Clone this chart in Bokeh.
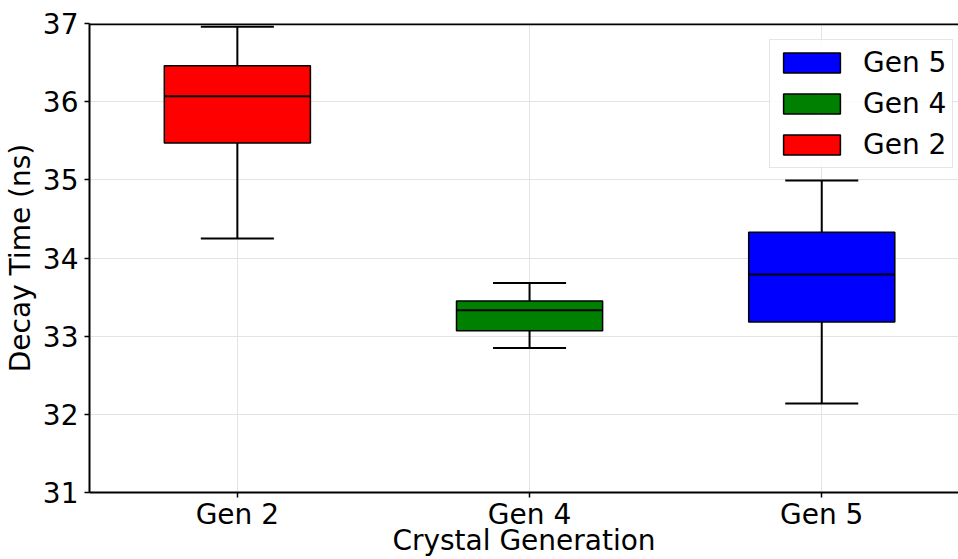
from bokeh.plotting import figure
from bokeh.models import Range1d, Span, Legend, LegendItem, ColumnDataSource
from bokeh.embed import file_html
from bokeh.resources import INLINE

# ---- data ----
generations = ["Gen 2", "Gen 4", "Gen 5"]
box_colors = ["red", "green", "blue"]
whisker_low = [34.25, 32.85, 32.14]
q1 = [35.47, 33.07, 33.18]
median = [36.07, 33.33, 33.79]
q3 = [36.46, 33.45, 34.33]
whisker_high = [36.96, 33.68, 34.99]
y_ticks = [31, 32, 33, 34, 35, 36, 37]
legend_order = ["Gen 5", "Gen 4", "Gen 2"]

positions = [i + 1 for i in range(len(generations))]
box_w = 0.5
cap_w = 0.25
FONT = "DejaVu Sans"
FS = "28px"

src = ColumnDataSource(dict(
    x=positions,
    left=[x - box_w / 2 for x in positions],
    right=[x + box_w / 2 for x in positions],
    cl=[x - cap_w / 2 for x in positions],
    cr=[x + cap_w / 2 for x in positions],
    lo=whisker_low, q1=q1, med=median, q3=q3, hi=whisker_high,
    color=box_colors, name=generations,
))

p = figure(width=958, height=559, output_backend="svg", toolbar_location=None,
           x_range=Range1d(0.494, 3.468), y_range=Range1d(31, 37),
           min_border_left=88, min_border_top=23, min_border_right=0,
           min_border_bottom=60)
p.background_fill_color = "white"
p.border_fill_color = "white"
p.outline_line_color = None

# whiskers
p.segment(x0="x", y0="lo", x1="x", y1="q1", source=src, line_color="black", line_width=2)
p.segment(x0="x", y0="q3", x1="x", y1="hi", source=src, line_color="black", line_width=2)
# caps
p.segment(x0="cl", y0="lo", x1="cr", y1="lo", source=src, line_color="black", line_width=2)
p.segment(x0="cl", y0="hi", x1="cr", y1="hi", source=src, line_color="black", line_width=2)
# boxes
boxes = p.quad(left="left", right="right", bottom="q1", top="q3", source=src,
               fill_color="color", line_color="black", line_width=1.5)
# medians
p.segment(x0="left", y0="med", x1="right", y1="med", source=src, line_color="black", line_width=2)

# top spine
p.add_layout(Span(location=37, dimension="width", line_color="black", line_width=3.5))

# axes
p.xaxis.ticker = positions
p.xaxis.major_label_overrides = {pos: g for pos, g in zip(positions, generations)}
p.yaxis.ticker = y_ticks
p.xaxis.axis_label = "Crystal Generation"
p.yaxis.axis_label = "Decay Time (ns)"
for ax in (p.xaxis, p.yaxis):
    ax.axis_label_text_font = FONT
    ax.axis_label_text_font_size = FS
    ax.axis_label_text_font_style = "normal"
    ax.axis_label_text_color = "black"
    ax.major_label_text_font = FONT
    ax.major_label_text_font_size = FS
    ax.major_label_text_color = "black"
    ax.axis_line_color = "black"
    ax.axis_line_width = 2
    ax.major_tick_line_color = "black"
    ax.major_tick_line_width = 1.5
    ax.major_tick_out = 5
    ax.major_tick_in = 0
    ax.minor_tick_line_color = None
p.xaxis.major_label_standoff = 0
p.xaxis.axis_label_standoff = -10
p.yaxis.major_label_standoff = 6
p.yaxis.axis_label_standoff = 3

p.xgrid.grid_line_color = "#e3e3e3"
p.ygrid.grid_line_color = "#e3e3e3"
p.xgrid.grid_line_width = 1
p.ygrid.grid_line_width = 1

# legend
items = [LegendItem(label=g, renderers=[boxes], index=generations.index(g)) for g in legend_order]
legend = Legend(items=items, location=(680, 324))
legend.label_text_font = FONT
legend.label_text_font_size = FS
legend.label_text_color = "black"
legend.glyph_width = 71
legend.glyph_height = 25
legend.label_standoff = 16
legend.spacing = 8
legend.padding = 6
legend.margin = 0
legend.border_line_color = "#cccccc"
legend.border_line_width = 1
legend.background_fill_alpha = 0.85
p.add_layout(legend)

open("out.html", "w").write(file_html(p, INLINE))
